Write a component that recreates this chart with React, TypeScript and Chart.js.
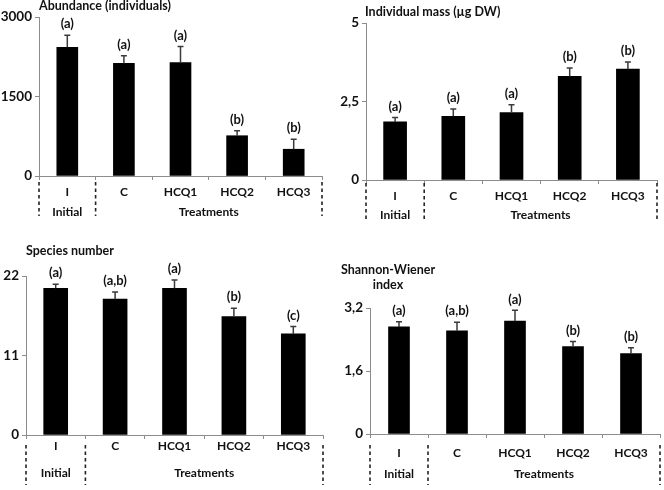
import React, { useEffect, useRef } from 'react';
import { Chart, registerables } from 'chart.js';

Chart.register(...registerables);

const categories = ['I', 'C', 'HCQ1', 'HCQ2', 'HCQ3'];

const abundance = [2430, 2125, 2140, 760, 505];
const abundanceErr = [225, 145, 305, 95, 190];
const abundanceLetters = ['(a)', '(a)', '(a)', '(b)', '(b)'];

const mass = [1.85, 2.03, 2.15, 3.3, 3.53];
const massErr = [0.14, 0.23, 0.25, 0.27, 0.23];
const massLetters = ['(a)', '(a)', '(a)', '(b)', '(b)'];

const species = [20.3, 18.8, 20.3, 16.4, 14.0];
const speciesErr = [0.55, 1.0, 1.15, 1.15, 1.0];
const speciesLetters = ['(a)', '(a,b)', '(a)', '(b)', '(c)'];

const shannon = [2.72, 2.62, 2.87, 2.22, 2.04];
const shannonErr = [0.13, 0.22, 0.27, 0.13, 0.15];
const shannonLetters = ['(a)', '(a,b)', '(a)', '(b)', '(b)'];

const groupLabels = ['Initial', 'Treatments'];

const FONT = 'Lato, "Open Sans", sans-serif';
const TEXT = '#111111';
const AXIS = '#8c8c8c';

type PanelCfg = {
  left: number;
  top: number;
  title: string[];
  titleX: number;
  titleY: number;
  titleAlign: CanvasTextAlign;
  values: number[];
  errors: number[];
  letters: string[];
  max: number;
  step: number;
  yWidth: number;
  padTop: number;
  padRight: number;
  xHeight: number;
  labelPad: number;
  groupY: number;
  dashTop: number;
  dashBottom: number;
  barThickness: number;
};

const panels: PanelCfg[] = [
  {
    left: 0, top: 0, title: ['Abundance (individuals)'], titleX: 39, titleY: 6, titleAlign: 'left',
    values: abundance, errors: abundanceErr, letters: abundanceLetters, max: 3000, step: 1500,
    yWidth: 39, padTop: 17, padRight: 10, xHeight: 69, labelPad: 5, groupY: 36, dashTop: 6, dashBottom: 40,
    barThickness: 21,
  },
  {
    left: 332, top: 0, title: ['Individual mass (µg DW)'], titleX: 33, titleY: 12, titleAlign: 'left',
    values: mass, errors: massErr, letters: massLetters, max: 5, step: 2.5,
    yWidth: 34, padTop: 23, padRight: 7, xHeight: 65, labelPad: 5, groupY: 35, dashTop: 3, dashBottom: 40,
    barThickness: 23,
  },
  {
    left: 0, top: 245, title: ['Species number'], titleX: 26, titleY: 6, titleAlign: 'left',
    values: species, errors: speciesErr, letters: speciesLetters, max: 22, step: 11,
    yWidth: 26, padTop: 31, padRight: 9, xHeight: 55, labelPad: 0, groupY: 38, dashTop: 10, dashBottom: 50,
    barThickness: 24,
  },
  {
    left: 332, top: 245, title: ['Shannon-Wiener', 'index'], titleX: 56, titleY: 25, titleAlign: 'center',
    values: shannon, errors: shannonErr, letters: shannonLetters, max: 3.2, step: 1.6,
    yWidth: 38, padTop: 63, padRight: 4, xHeight: 56, labelPad: 8, groupY: 40, dashTop: 11, dashBottom: 51,
    barThickness: 21,
  },
];

function makeOverlay(cfg: PanelCfg) {
  return {
    id: 'overlay',
    afterDatasetsDraw(chart: any) {
      const ctx = chart.ctx as CanvasRenderingContext2D;
      const y = chart.scales.y;
      const meta = chart.getDatasetMeta(0);
      ctx.save();
      cfg.values.forEach((v, i) => {
        const bar = meta.data[i];
        const x = bar.x;
        const yb = y.getPixelForValue(v);
        const yt = y.getPixelForValue(v + cfg.errors[i]);
        ctx.strokeStyle = '#3a3a3a';
        ctx.lineWidth = 1.5;
        ctx.beginPath();
        ctx.moveTo(x, yb);
        ctx.lineTo(x, yt);
        ctx.moveTo(x - 3, yt);
        ctx.lineTo(x + 3, yt);
        ctx.stroke();
        ctx.fillStyle = TEXT;
        ctx.font = `bold 13px ${FONT}`;
        ctx.textAlign = 'center';
        ctx.textBaseline = 'middle';
        ctx.fillText(cfg.letters[i], x, yt - 11);
      });
      ctx.restore();
    },
    afterDraw(chart: any) {
      const ctx = chart.ctx as CanvasRenderingContext2D;
      const xs = chart.scales.x;
      const area = chart.chartArea;
      ctx.save();
      ctx.fillStyle = TEXT;
      ctx.font = `bold 12.5px ${FONT}`;
      ctx.textAlign = cfg.titleAlign;
      ctx.textBaseline = 'middle';
      cfg.title.forEach((t, k) => ctx.fillText(t, cfg.titleX, cfg.titleY + k * 14.5));
      const p0 = xs.getPixelForValue(0);
      const p1 = xs.getPixelForValue(1);
      const b1 = (p0 + p1) / 2;
      const bounds = [area.left, b1, area.right];
      const axisY = area.bottom;
      ctx.strokeStyle = '#222';
      ctx.lineWidth = 1.6;
      ctx.setLineDash([3.5, 3]);
      bounds.forEach((bx) => {
        ctx.beginPath();
        ctx.moveTo(bx, axisY + cfg.dashTop);
        ctx.lineTo(bx, axisY + cfg.dashBottom);
        ctx.stroke();
      });
      ctx.setLineDash([]);
      ctx.font = `bold 12px ${FONT}`;
      ctx.textAlign = 'center';
      ctx.fillText(groupLabels[0], p0, axisY + cfg.groupY);
      ctx.fillText(groupLabels[1], (b1 + area.right) / 2, axisY + cfg.groupY);
      ctx.restore();
    },
  };
}

function Panel({ cfg }: { cfg: PanelCfg }) {
  const ref = useRef<HTMLCanvasElement>(null);
  useEffect(() => {
    if (!ref.current) return;
    const chart = new Chart(ref.current, {
      type: 'bar',
      data: {
        labels: categories,
        datasets: [
          {
            data: cfg.values,
            backgroundColor: '#000000',
            borderWidth: 0,
            barThickness: cfg.barThickness,
          },
        ],
      },
      options: {
        responsive: false,
        maintainAspectRatio: false,
        animation: false,
        events: [],
        layout: { padding: { left: 0, top: cfg.padTop, right: cfg.padRight, bottom: 0 } },
        plugins: { legend: { display: false }, tooltip: { enabled: false } },
        scales: {
          x: {
            offset: true,
            grid: { display: true, drawOnChartArea: false, offset: true, color: AXIS, tickLength: 4, lineWidth: 1 },
            border: { display: true, color: AXIS, width: 1 },
            ticks: { color: TEXT, font: { family: FONT, size: 12, weight: 'bold' }, padding: cfg.labelPad, maxRotation: 0, autoSkip: false },
            afterFit: (s: any) => {
              s.height = cfg.xHeight;
            },
          },
          y: {
            min: 0,
            max: cfg.max,
            grid: { display: true, drawOnChartArea: false, color: AXIS, tickLength: 4, lineWidth: 1 },
            border: { display: true, color: AXIS, width: 1 },
            ticks: {
              stepSize: cfg.step,
              color: TEXT,
              padding: 3,
              font: { family: FONT, size: 13.5, weight: 'bold' },
              callback: (v: any) => String(Math.round(Number(v) * 10) / 10).replace('.', ','),
            },
            afterFit: (s: any) => {
              s.width = cfg.yWidth;
            },
          },
        },
      },
      plugins: [makeOverlay(cfg)],
    });
    return () => chart.destroy();
  }, [cfg]);
  return (
    <canvas
      ref={ref}
      width={332}
      height={245}
      style={{ position: 'absolute', left: cfg.left, top: cfg.top, width: 332, height: 245 }}
    />
  );
}

export default function App() {
  return (
    <div style={{ position: 'absolute', left: 0, top: 0, width: 664, height: 490, background: '#ffffff' }}>
      {panels.map((p, i) => (
        <Panel key={i} cfg={p} />
      ))}
    </div>
  );
}
